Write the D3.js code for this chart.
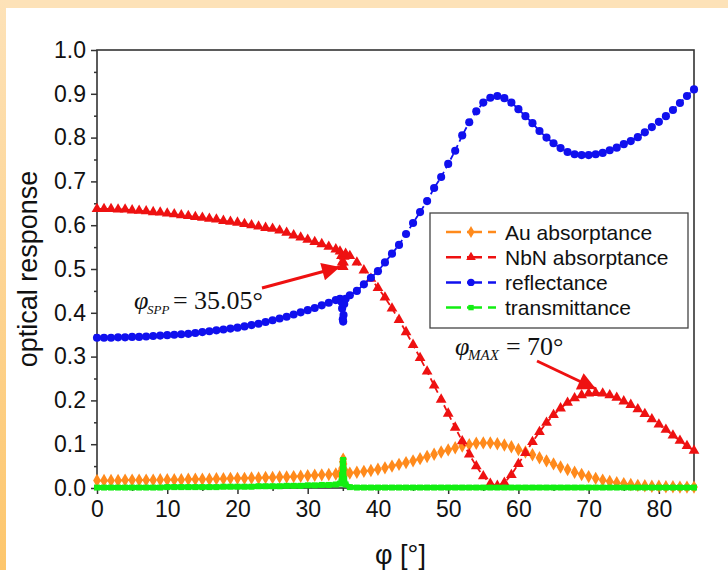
<!DOCTYPE html>
<html><head><meta charset="utf-8">
<script src="https://cdn.jsdelivr.net/npm/d3@7"></script>
<style>html,body{margin:0;padding:0;background:#fff;}svg{display:block;}</style>
</head><body>
<script>
// ---- data ----
const angles = [0,1,2,3,4,5,6,7,8,9,10,11,12,13,14,15,16,17,18,19,20,21,22,23,24,25,26,27,28,29,30,31,32,33,34,
  34.6,34.8,34.9,35,35.05,35.1,35.2,35.4,
  36,37,38,39,40,41,42,43,44,45,46,47,48,49,50,51,52,53,54,55,56,57,58,59,60,61,62,63,64,65,66,67,68,69,70,71,72,73,74,75,76,77,78,79,80,81,82,83,84,85];

const auAbs = [0.017,0.017,0.017,0.017,0.018,0.018,0.018,0.018,0.018,0.019,0.019,0.019,0.019,0.020,0.020,0.020,0.020,0.021,0.021,0.022,0.022,0.022,0.023,0.023,0.024,0.024,0.025,0.025,0.026,0.027,0.028,0.029,0.030,0.031,0.032,
  0.033,0.036,0.045,0.060,0.066,0.055,0.042,0.035,
  0.034,0.036,0.038,0.040,0.043,0.046,0.050,0.054,0.058,0.062,0.067,0.072,0.077,0.082,0.087,0.092,0.096,0.099,0.102,0.103,0.103,0.101,0.098,0.094,0.088,0.082,0.076,0.069,0.062,0.055,0.048,0.042,0.036,0.031,0.026,0.022,0.018,0.015,0.012,0.010,0.008,0.006,0.005,0.004,0.004,0.003,0.003,0.002,0.002,0.002];

const nbnAbs = [0.637,0.637,0.637,0.636,0.636,0.634,0.633,0.632,0.630,0.629,0.627,0.625,0.623,0.621,0.619,0.617,0.615,0.613,0.610,0.608,0.606,0.603,0.600,0.597,0.594,0.592,0.588,0.583,0.577,0.572,0.567,0.562,0.557,0.551,0.545,
  0.540,0.530,0.515,0.505,0.505,0.515,0.528,0.535,
  0.530,0.515,0.497,0.478,0.457,0.435,0.410,0.384,0.356,0.327,0.297,0.266,0.234,0.202,0.170,0.138,0.107,0.077,0.050,0.027,0.010,0.005,0.012,0.030,0.055,0.080,0.105,0.128,0.149,0.167,0.182,0.195,0.205,0.212,0.216,0.217,0.216,0.212,0.206,0.198,0.190,0.180,0.169,0.157,0.145,0.133,0.120,0.108,0.096,0.085];

const reflectance = [0.343,0.343,0.343,0.344,0.344,0.345,0.345,0.346,0.347,0.348,0.349,0.350,0.351,0.352,0.354,0.356,0.358,0.360,0.362,0.364,0.366,0.369,0.372,0.375,0.379,0.383,0.387,0.391,0.396,0.401,0.406,0.411,0.417,0.423,0.429,
  0.432,0.425,0.410,0.385,0.380,0.395,0.420,0.432,
  0.440,0.450,0.465,0.480,0.495,0.515,0.535,0.555,0.580,0.605,0.630,0.655,0.685,0.710,0.740,0.770,0.805,0.835,0.860,0.880,0.891,0.895,0.890,0.880,0.865,0.849,0.833,0.815,0.800,0.787,0.776,0.767,0.762,0.760,0.760,0.762,0.765,0.771,0.777,0.785,0.792,0.801,0.812,0.824,0.836,0.849,0.863,0.879,0.895,0.910];

const transmittance = [0.001,0.001,0.001,0.001,0.001,0.001,0.001,0.001,0.001,0.001,0.002,0.002,0.002,0.002,0.002,0.002,0.002,0.002,0.003,0.003,0.003,0.003,0.003,0.004,0.004,0.004,0.004,0.005,0.005,0.005,0.006,0.006,0.007,0.007,0.008,
  0.010,0.015,0.030,0.055,0.064,0.045,0.020,0.008,
  0.002,0.001,0.001,0.001,0.001,0.001,0.001,0.001,0.001,0.001,0.001,0.001,0.001,0.001,0.001,0.001,0.001,0.001,0.001,0.001,0.001,0.001,0.001,0.001,0.001,0.001,0.001,0.001,0.001,0.001,0.001,0.001,0.001,0.001,0.001,0.001,0.001,0.001,0.001,0.001,0.001,0.001,0.001,0.001,0.001,0.001,0.001,0.001,0.001,0.001];

const seriesNames = ["Au absorptance","NbN absorptance","reflectance","transmittance"];
const xTicks = [0,10,20,30,40,50,60,70,80];
const yTicks = [0.0,0.1,0.2,0.3,0.4,0.5,0.6,0.7,0.8,0.9,1.0];
const xLabel = "φ [°]";
const yLabel = "optical response";

// ---- chart ----
const W = 728, H = 570;
const L = 97, R = 694, T = 50, B = 488;
const svg = d3.select("body").append("svg").attr("width", W).attr("height", H);
const defs = svg.append("defs");
const g = defs.append("linearGradient").attr("id","lg").attr("x1",0).attr("y1",0).attr("x2",0).attr("y2",1);
g.append("stop").attr("offset","0%").attr("stop-color","#fde2b8");
g.append("stop").attr("offset","100%").attr("stop-color","#fdc66c");
svg.append("rect").attr("x",0).attr("y",0).attr("width",W).attr("height",H).attr("fill","#fff");
svg.append("rect").attr("x",0).attr("y",0).attr("width",W).attr("height",8).attr("fill","#fde2b8");
svg.append("rect").attr("x",0).attr("y",0).attr("width",6).attr("height",H).attr("fill","url(#lg)");

const x = d3.scaleLinear().domain([0,85]).range([L,R]);
const y = d3.scaleLinear().domain([0,1]).range([B,T]);

const sans = "'Liberation Sans', Arial, sans-serif";
const serif = "'Liberation Serif', 'Times New Roman', serif";

// axes
const xAxis = d3.axisBottom(x).tickValues(xTicks).tickFormat(d3.format("d")).tickSize(6).tickPadding(7);
const yAxis = d3.axisLeft(y).tickValues(yTicks).tickFormat(d3.format(".1f")).tickSize(6).tickPadding(5);
const xMinor = d3.axisBottom(x).tickValues([5,15,25,35,45,55,65,75,85]).tickFormat("").tickSize(3);
const yMinor = d3.axisLeft(y).tickValues([0.05,0.15,0.25,0.35,0.45,0.55,0.65,0.75,0.85,0.95]).tickFormat("").tickSize(3);

function styleAxis(sel){
  sel.select(".domain").remove();
  sel.selectAll("line").attr("stroke","#333").attr("stroke-width",1.5);
  sel.selectAll("text").attr("font-family",sans).attr("font-size",23).attr("fill","#111");
}
svg.append("g").attr("transform",`translate(0,${B})`).call(xAxis).call(styleAxis);
svg.append("g").attr("transform",`translate(0,${B})`).call(xMinor).call(styleAxis);
svg.append("g").attr("transform",`translate(${L},0)`).call(yAxis).call(styleAxis);
svg.append("g").attr("transform",`translate(${L},0)`).call(yMinor).call(styleAxis);

// frame (under the markers)
svg.append("rect").attr("x",L).attr("y",T).attr("width",R-L).attr("height",B-T)
  .attr("fill","none").attr("stroke","#333").attr("stroke-width",1.6);

// series
const cols = {au:"#ff8a1c", nbn:"#ee1111", ref:"#1010ee", tr:"#12ee12"};
const series = [
  {name:seriesNames[0], vals:auAbs, color:cols.au, sym:d3.symbolDiamond, size:52},
  {name:seriesNames[1], vals:nbnAbs, color:cols.nbn, sym:d3.symbolTriangle, size:50},
  {name:seriesNames[2], vals:reflectance, color:cols.ref, sym:d3.symbolCircle, size:52},
  {name:seriesNames[3], vals:transmittance, color:cols.tr, sym:d3.symbolSquare, size:36}
];
const clip = defs.append("clipPath").attr("id","clip");
clip.append("rect").attr("x",L-6).attr("y",T-6).attr("width",R-L+12).attr("height",B-T+12);
const plot = svg.append("g").attr("clip-path","url(#clip)");
const line = d3.line().x((d,i)=>x(angles[i])).y(d=>y(d));
series.forEach(s=>{
  plot.append("path").attr("d",line(s.vals)).attr("fill","none").attr("stroke",s.color)
    .attr("stroke-width", s.name==="transmittance" ? 5 : 1.8)
    .attr("stroke-dasharray", s.name==="transmittance" ? null : "6,4");
  plot.append("g").selectAll("path").data(s.vals).join("path")
    .attr("transform",(d,i)=>`translate(${x(angles[i])},${y(d)})`)
    .attr("d",d3.symbol().type(s.sym).size(s.size)).attr("fill",s.color);
});

// axis labels
svg.append("text").attr("x",(L+R)/2+5).attr("y",564).attr("text-anchor","middle")
  .attr("font-family",sans).attr("font-size",27).attr("fill","#111").text(xLabel);
svg.append("text").attr("transform",`translate(37,${(T+B)/2}) rotate(-90)`).attr("text-anchor","middle")
  .attr("font-family",sans).attr("font-size",27).attr("fill","#111").text(yLabel);

// legend
const lg = svg.append("g");
lg.append("rect").attr("x",430).attr("y",213).attr("width",258).attr("height",115)
  .attr("fill","#fff").attr("stroke","#444").attr("stroke-width",1.3);
series.forEach((s,i)=>{
  const cy = 232 + i*25.2;
  lg.append("line").attr("x1",446).attr("x2",496).attr("y1",cy).attr("y2",cy)
    .attr("stroke",s.color).attr("stroke-width",2.5).attr("stroke-dasharray","15,6");
  lg.append("path").attr("transform",`translate(471,${cy})`).attr("d",d3.symbol().type(s.sym).size(s.size*0.8)).attr("fill",s.color);
  lg.append("text").attr("x",505).attr("y",cy+7.5).attr("font-family",sans).attr("font-size",21)
    .attr("fill","#111").text(s.name);
});

// annotations
function annot(tx, ty, sub, subSize, eqX, val){
  const t = svg.append("g").attr("font-family",serif).attr("fill","#111");
  t.append("text").attr("x",tx).attr("y",ty).attr("font-size",26).attr("font-style","italic").text("φ");
  t.append("text").attr("x",tx+13).attr("y",ty+5).attr("font-size",subSize).attr("font-style","italic").text(sub);
  t.append("text").attr("x",eqX).attr("y",ty).attr("font-size",26).text("=");
  t.append("text").attr("x",eqX+21).attr("y",ty).attr("font-size",26).text(val);
}
annot(134, 309, "SPP", 13, 173, "35.05°");
annot(455, 355, "MAX", 15, 506, "70°");

defs.append("marker").attr("id","ah").attr("viewBox","0 0 10 10").attr("refX",10).attr("refY",5)
  .attr("markerWidth",7).attr("markerHeight",6).attr("markerUnits","strokeWidth").attr("orient","auto")
  .append("path").attr("d","M0,0 L10,5 L0,10 z").attr("fill","#ee1111");
function arrow(x1,y1,x2,y2){
  svg.append("line").attr("x1",x1).attr("y1",y1).attr("x2",x2).attr("y2",y2)
    .attr("stroke","#ee1111").attr("stroke-width",3).attr("marker-end","url(#ah)");
}
arrow(262,288,340,267);
arrow(537,361,596,389);
</script>
</body></html>
